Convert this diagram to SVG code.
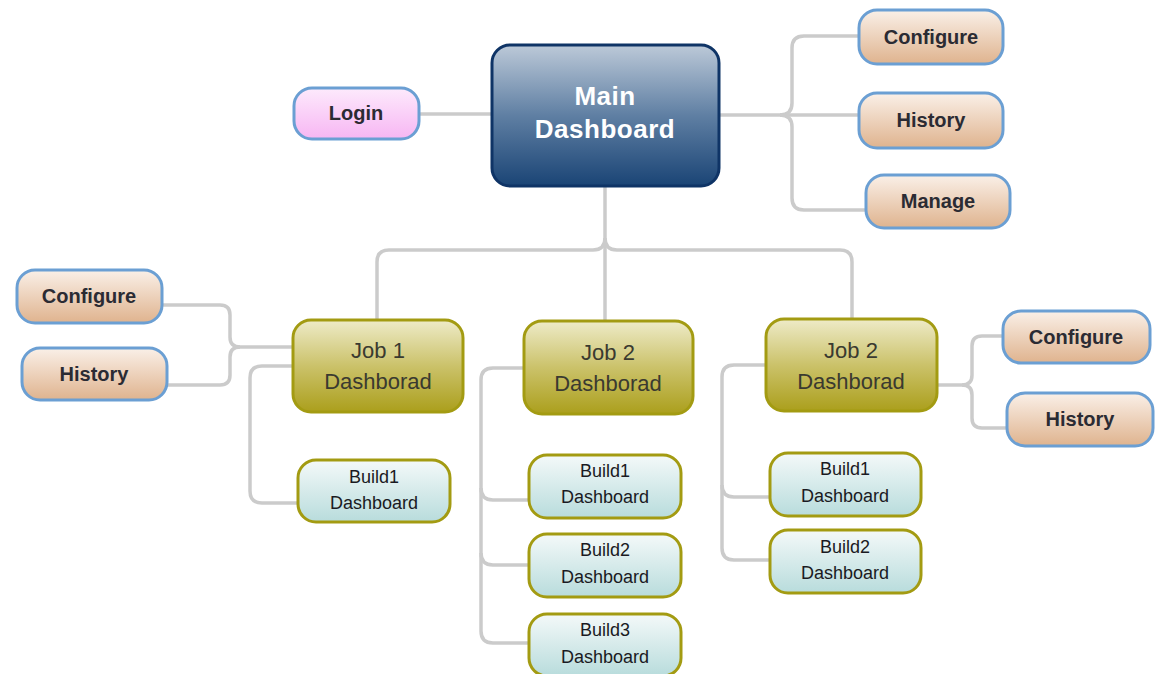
<svg xmlns="http://www.w3.org/2000/svg" width="1158" height="674" viewBox="0 0 1158 674">
<defs>
<linearGradient id="gMain" x1="0" y1="0" x2="0" y2="1"><stop offset="0" stop-color="#bcc9d8"/><stop offset="0.5" stop-color="#5f7fa3"/><stop offset="1" stop-color="#1a4475"/></linearGradient>
<linearGradient id="gPink" x1="0" y1="0" x2="0" y2="1"><stop offset="0" stop-color="#fdeafc"/><stop offset="1" stop-color="#f7b6f3"/></linearGradient>
<linearGradient id="gPeach" x1="0" y1="0" x2="0" y2="1"><stop offset="0" stop-color="#faf0e8"/><stop offset="1" stop-color="#dfb38e"/></linearGradient>
<linearGradient id="gJob" x1="0" y1="0" x2="0" y2="1"><stop offset="0" stop-color="#eeebc8"/><stop offset="0.5" stop-color="#cbc26a"/><stop offset="1" stop-color="#ab9f1c"/></linearGradient>
<linearGradient id="gBuild" x1="0" y1="0" x2="0" y2="1"><stop offset="0" stop-color="#f4f9f9"/><stop offset="1" stop-color="#b8dcdc"/></linearGradient>
</defs>
<style>
.con{fill:none;stroke:#cbcbcb;stroke-width:3.5}
.main{fill:url(#gMain);stroke:#0f3466;stroke-width:3}
.pink{fill:url(#gPink);stroke:#6b9fd3;stroke-width:3}
.peach{fill:url(#gPeach);stroke:#6b9fd3;stroke-width:3}
.job{fill:url(#gJob);stroke:#a39b12;stroke-width:3}
.build{fill:url(#gBuild);stroke:#a39b12;stroke-width:3}
text{font-family:"Liberation Sans",Arial,sans-serif;text-anchor:middle}
.tm{font-size:26px;font-weight:bold;fill:#ffffff;letter-spacing:0.5px}
.tb{font-size:20px;font-weight:bold;fill:#2b2b33}
.tj{font-size:22px;fill:#3a3a30}
.tbu{font-size:18px;fill:#1a1a22}
</style>
<g id="connectors">
<path class="con" d="M719,115 H859"/>
<path class="con" d="M780,115 Q792,115 792,103 V48 Q792,36 804,36 H859"/>
<path class="con" d="M780,115 Q792,115 792,127 V198 Q792,210 804,210 H866"/>
<path class="con" d="M419,114 H492"/>
<path class="con" d="M605,186 V238 Q605,250 593,250 H389 Q377,250 377,262 V320"/>
<path class="con" d="M605,238 Q605,250 617,250 H840 Q852,250 852,262 V319"/>
<path class="con" d="M605,238 V321"/>
<path class="con" d="M293,347 H240 Q230,347 230,337 V315 Q230,305 220,305 H162"/>
<path class="con" d="M240,347 Q230,347 230,357 V375 Q230,385 220,385 H167"/>
<path class="con" d="M293,366 H262 Q250,366 250,378 V491 Q250,503 262,503 H298"/>
<path class="con" d="M524,368 H493 Q481,368 481,380 V631 Q481,643 493,643 H529"/>
<path class="con" d="M481,488 Q481,500 493,500 H529"/>
<path class="con" d="M481,553 Q481,565 493,565 H529"/>
<path class="con" d="M766,365 H734 Q722,365 722,377 V548 Q722,560 734,560 H770"/>
<path class="con" d="M722,485 Q722,497 734,497 H770"/>
<path class="con" d="M937,385 H962 Q972,385 972,375 V346 Q972,336 982,336 H1003"/>
<path class="con" d="M962,385 Q972,385 972,395 V418 Q972,428 982,428 H1007"/>
</g>
<g id="main"><rect class="main" x="492" y="45" width="227" height="141" rx="18"/><text class="tm" x="605" y="105">Main</text><text class="tm" x="605" y="138">Dashboard</text></g>
<g id="login"><rect class="pink" x="294" y="88" width="125" height="51" rx="18"/><text class="tb" x="356" y="120">Login</text></g>
<g id="configure-top"><rect class="peach" x="859" y="10" width="144" height="54" rx="18"/><text class="tb" x="931" y="44">Configure</text></g>
<g id="history-top"><rect class="peach" x="859" y="93" width="144" height="55" rx="18"/><text class="tb" x="931" y="127">History</text></g>
<g id="manage-top"><rect class="peach" x="866" y="175" width="144" height="53" rx="18"/><text class="tb" x="938" y="208">Manage</text></g>
<g id="configure-left"><rect class="peach" x="17" y="270" width="145" height="53" rx="18"/><text class="tb" x="89" y="303">Configure</text></g>
<g id="history-left"><rect class="peach" x="22" y="348" width="145" height="52" rx="18"/><text class="tb" x="94" y="381">History</text></g>
<g id="configure-right"><rect class="peach" x="1003" y="311" width="147" height="52" rx="18"/><text class="tb" x="1076" y="344">Configure</text></g>
<g id="history-right"><rect class="peach" x="1007" y="393" width="146" height="53" rx="18"/><text class="tb" x="1080" y="426">History</text></g>
<g id="job1"><rect class="job" x="293" y="320" width="170" height="92" rx="18"/><text class="tj" x="378" y="358">Job 1</text><text class="tj" x="378" y="389">Dashborad</text></g>
<g id="job2-mid"><rect class="job" x="524" y="321" width="169" height="93" rx="18"/><text class="tj" x="608" y="360">Job 2</text><text class="tj" x="608" y="391">Dashborad</text></g>
<g id="job2-right"><rect class="job" x="766" y="319" width="171" height="92" rx="18"/><text class="tj" x="851" y="358">Job 2</text><text class="tj" x="851" y="389">Dashborad</text></g>
<g id="j1-build1"><rect class="build" x="298" y="460" width="152" height="62" rx="18"/><text class="tbu" x="374" y="483">Build1</text><text class="tbu" x="374" y="509">Dashboard</text></g>
<g id="j2-build1"><rect class="build" x="529" y="455" width="152" height="63" rx="18"/><text class="tbu" x="605" y="477">Build1</text><text class="tbu" x="605" y="503">Dashboard</text></g>
<g id="j2-build2"><rect class="build" x="529" y="534" width="152" height="63" rx="18"/><text class="tbu" x="605" y="556">Build2</text><text class="tbu" x="605" y="583">Dashboard</text></g>
<g id="j2-build3"><rect class="build" x="529" y="614" width="152" height="62" rx="18"/><text class="tbu" x="605" y="636">Build3</text><text class="tbu" x="605" y="663">Dashboard</text></g>
<g id="j3-build1"><rect class="build" x="770" y="453" width="151" height="63" rx="18"/><text class="tbu" x="845" y="475">Build1</text><text class="tbu" x="845" y="502">Dashboard</text></g>
<g id="j3-build2"><rect class="build" x="770" y="530" width="151" height="63" rx="18"/><text class="tbu" x="845" y="553">Build2</text><text class="tbu" x="845" y="579">Dashboard</text></g>
</svg>
